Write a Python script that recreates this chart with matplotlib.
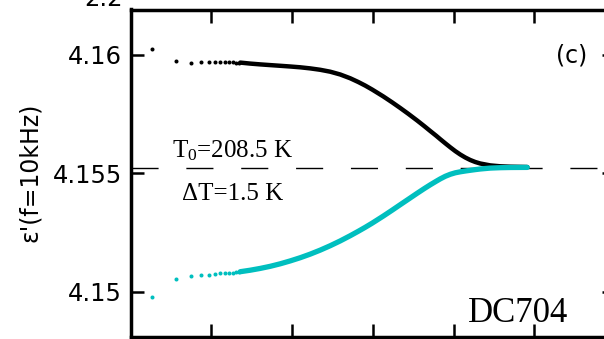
import matplotlib
matplotlib.use('Agg')
import matplotlib.pyplot as plt

plt.rcParams.update({
    'font.family': 'DejaVu Sans',
    'font.size': 17,
    'mathtext.default': 'regular',
})

# early, well separated points (time in s)
t_sparse = [0.185, 0.37, 0.555, 0.74, 0.925, 1.11, 1.295, 1.48, 1.665, 1.85, 2.035, 2.22]
eps_down_sparse = [4.16025, 4.15975, 4.15967, 4.15970, 4.15972, 4.15971, 4.15970,
                   4.15970, 4.15969, 4.15969, 4.15968, 4.15968]
eps_up_sparse = [4.14978, 4.15054, 4.15068, 4.15069, 4.15072, 4.15075, 4.15077,
                 4.15078, 4.15079, 4.15081, 4.15082, 4.15083]

# dense part (points merge into a line)
t_dense = [2.287, 3.041, 4.045, 5.379, 7.154, 9.513, 12.65, 16.83, 22.38, 29.76,
           39.59, 52.65, 66.14, 80.76, 98.58, 134.9, 174.4, 219.0, 275.2, 355.7,
           434.3, 515.3, 611.6, 685.5, 790.5, 911.5, 1051, 1212, 1398, 1612,
           1859, 2145, 2852, 3793, 5044, 8192]
eps_down_dense = [4.159679, 4.159637, 4.159603, 4.159573, 4.159544, 4.159514,
                  4.159480, 4.159434, 4.159375, 4.159294, 4.159176, 4.159016,
                  4.158859, 4.158707, 4.158538, 4.158251, 4.157997, 4.157761,
                  4.157516, 4.157229, 4.156996, 4.156789, 4.156586, 4.156443,
                  4.156270, 4.156101, 4.155940, 4.155796, 4.155670, 4.155564,
                  4.155480, 4.155416, 4.155336, 4.155298, 4.155281, 4.155268]
eps_up_dense = [4.150845, 4.150908, 4.150984, 4.151073, 4.151179, 4.151301,
                4.151436, 4.151588, 4.151757, 4.151943, 4.152146, 4.152366,
                4.152552, 4.152721, 4.152898, 4.153194, 4.153447, 4.153676,
                4.153904, 4.154161, 4.154356, 4.154516, 4.154668, 4.154766,
                4.154875, 4.154960, 4.155023, 4.155065, 4.155099, 4.155129,
                4.155158, 4.155184, 4.155222, 4.155239, 4.155247, 4.155251]

eps_eq = 4.15521
y_ticks = [4.15, 4.155, 4.16]
y_ticklabels = ['4.15', '4.155', '4.16']
x_ticks = [1, 10, 100, 1000, 10000]

cyan = '#00BFBF'
W, H = 604, 339


def fx(px):
    return px / W


def fy(py):
    return 1 - py / H


fig = plt.figure(figsize=(W / 100, H / 100), dpi=100)
# axes runs past the right edge of the picture (cropped panel)
left, right, top, bottom = 130.5, 615.0, 9.5, 337.2
ax = fig.add_axes([fx(left), fy(bottom), (right - left) / W, (bottom - top) / H])

ax.axhline(eps_eq, color='black', lw=1.0, ls=(0, (19.5, 20)), zorder=1)

ax.plot(t_sparse, eps_down_sparse, 'o', color='black', ms=2.9, mew=0, zorder=2)
ax.plot(t_dense, eps_down_dense, '-', color='black', lw=3.2,
        solid_capstyle='round', solid_joinstyle='round', zorder=2)
ax.plot(t_sparse, eps_up_sparse, 'o', color=cyan, ms=2.9, mew=0, zorder=3)
ax.plot(t_dense, eps_up_dense, '-', color=cyan, lw=3.8,
        solid_capstyle='round', solid_joinstyle='round', zorder=3)

ax.set_xscale('log')
ax.set_xlim(0.1, 1e5)
ax.set_ylim(4.148078, 4.161922)
ax.set_xticks(x_ticks)
ax.set_xticklabels([])
ax.minorticks_off()
ax.set_yticks(y_ticks)
ax.set_yticklabels(y_ticklabels)
ax.tick_params(which='both', direction='in', top=True, right=True,
               length=9.4, width=1.8, pad=6, labelsize=17.5)
for s in ax.spines.values():
    s.set_linewidth(2.5)

fig.text(fx(30), fy(172), "ε'(f=10kHz)", rotation=90, ha='center', va='center',
         fontsize=17)
# tick label of the panel above, cut by the top edge as in the source figure
fig.text(fx(123), fy(-1.3), '2.2', ha='right', va='center', fontsize=17.5)

fig.text(fx(572), fy(55), '(c)', ha='center', va='center', fontsize=17)
fig.text(fx(233), fy(157), 'T$_0$=208.5 K', ha='center', va='baseline',
         family='Liberation Serif', fontsize=18)
fig.text(fx(233), fy(200), 'ΔT=1.5 K', ha='center', va='baseline',
         family='Liberation Serif', fontsize=18)
fig.text(fx(518), fy(322), 'DC704', ha='center', va='baseline',
         family='Liberation Serif', fontsize=25)

fig.savefig('out.png', dpi=100)
